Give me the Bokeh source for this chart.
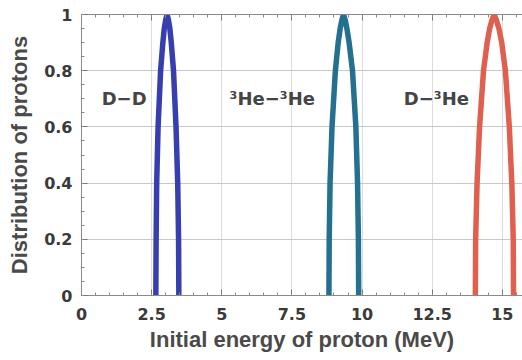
from bokeh.plotting import figure
from bokeh.models import LinearAxis, SingleIntervalTicker, Range1d, ColumnDataSource, CustomJSTickFormatter
from bokeh.core.properties import value
from bokeh.embed import file_html
from bokeh.resources import INLINE

# ---- data ----
dd_energy = [2.65, 2.66, 2.68, 2.73, 2.82, 2.90, 2.95, 3.00, 3.05,
             3.10, 3.15, 3.20, 3.28, 3.37, 3.43, 3.46, 3.47]
dd_dist = [0.0, 0.2, 0.4, 0.6, 0.8, 0.9, 0.95, 0.98, 1.0,
           0.98, 0.95, 0.9, 0.8, 0.6, 0.4, 0.2, 0.0]

hehe_energy = [8.82, 8.83, 8.86, 8.93, 9.05, 9.15, 9.22, 9.28, 9.34,
               9.40, 9.46, 9.54, 9.66, 9.78, 9.84, 9.87, 9.88]
hehe_dist = [0.0, 0.2, 0.4, 0.6, 0.8, 0.9, 0.95, 0.98, 1.0,
             0.98, 0.95, 0.9, 0.8, 0.6, 0.4, 0.2, 0.0]

dhe_energy = [14.04, 14.05, 14.10, 14.19, 14.33, 14.46, 14.55, 14.63, 14.71,
              14.79, 14.88, 14.98, 15.11, 15.25, 15.34, 15.39, 15.40]
dhe_dist = [0.0, 0.2, 0.4, 0.6, 0.8, 0.9, 0.95, 0.98, 1.0,
            0.98, 0.95, 0.9, 0.8, 0.6, 0.4, 0.2, 0.0]

series_colors = ["#363eb0", "#24708f", "#e0604f"]

label_texts = ["D\u2212D", "\u00b3He\u2212\u00b3He", "D\u2212\u00b3He"]
label_x = [1.52, 6.8, 12.65]
label_y = [0.70, 0.70, 0.70]

x_tick_vals = [0, 2.5, 5, 7.5, 10, 12.5, 15]
x_tick_labels = ["0", "2.5", "5", "7.5", "10", "12.5", "15"]
y_tick_vals = [0, 0.2, 0.4, 0.6, 0.8, 1.0]
y_tick_labels = ["0", "0.2", "0.4", "0.6", "0.8", "1"]

x_title = "Initial energy of proton (MeV)"
y_title = "Distribution of protons"

# ---- figure ----
p = figure(width=522, height=360, output_backend="svg", toolbar_location=None,
           x_range=Range1d(0, 15.72), y_range=Range1d(0, 1),
           min_border_left=81, min_border_right=0, min_border_top=14,
           min_border_bottom=65, background_fill_color="white",
           border_fill_color="white")
p.outline_line_color = None

tick_font = "DejaVu Sans"
title_font = "Liberation Sans"

for ax, ticker_int, nminor, vals, labs in [
        (p.xaxis[0], 2.5, 5, x_tick_vals, x_tick_labels),
        (p.yaxis[0], 0.2, 4, y_tick_vals, y_tick_labels)]:
    ax.ticker = SingleIntervalTicker(interval=ticker_int, num_minor_ticks=nminor)
    ax.major_label_overrides = {v: l for v, l in zip(vals, labs)}
    ax.major_tick_in = 6
    ax.major_tick_out = 0
    ax.minor_tick_in = 3
    ax.minor_tick_out = 0
    ax.major_tick_line_color = "#777777"
    ax.minor_tick_line_color = "#888888"
    ax.axis_line_color = "#8a8a8a"
    ax.major_label_text_font = tick_font
    ax.major_label_text_font_style = "bold"
    ax.major_label_text_font_size = "16px"
    ax.major_label_text_color = "#3a3a3a"
    ax.axis_label_text_font = title_font
    ax.axis_label_text_font_style = "bold"
    ax.axis_label_text_font_size = "22px"
    ax.axis_label_text_color = "#4a4a4a"

p.xaxis[0].axis_label = x_title
p.yaxis[0].axis_label = y_title
p.xaxis[0].major_label_standoff = 12
p.xaxis[0].axis_label_standoff = 4
p.yaxis[0].major_label_standoff = 9
p.yaxis[0].axis_label_standoff = 9

top = LinearAxis(ticker=SingleIntervalTicker(interval=2.5, num_minor_ticks=5),
                 formatter=CustomJSTickFormatter(code="return ''"),
                 major_tick_in=6, major_tick_out=0, minor_tick_in=3, minor_tick_out=0,
                 major_tick_line_color="#777777", minor_tick_line_color="#888888",
                 axis_line_color="#8a8a8a", major_label_standoff=0)
p.add_layout(top, "above")

p.xgrid.grid_line_color = "#dcdcdc"
p.ygrid.grid_line_color = "#c8c8c8"
p.xgrid.grid_line_width = 1
p.ygrid.grid_line_width = 1

for xs, ys, c in [(dd_energy, dd_dist, series_colors[0]),
                  (hehe_energy, hehe_dist, series_colors[1]),
                  (dhe_energy, dhe_dist, series_colors[2])]:
    p.line(xs, ys, line_color=c, line_width=5.5, line_join="miter", line_cap="butt")

src = ColumnDataSource(dict(x=label_x, y=label_y, t=label_texts))
p.text(x="x", y="y", text="t", source=src, text_font=value(tick_font),
       text_font_style="bold", text_font_size="18px", text_color="#454545",
       text_align="center", text_baseline="middle")

open("out.html", "w").write(file_html(p, INLINE))
